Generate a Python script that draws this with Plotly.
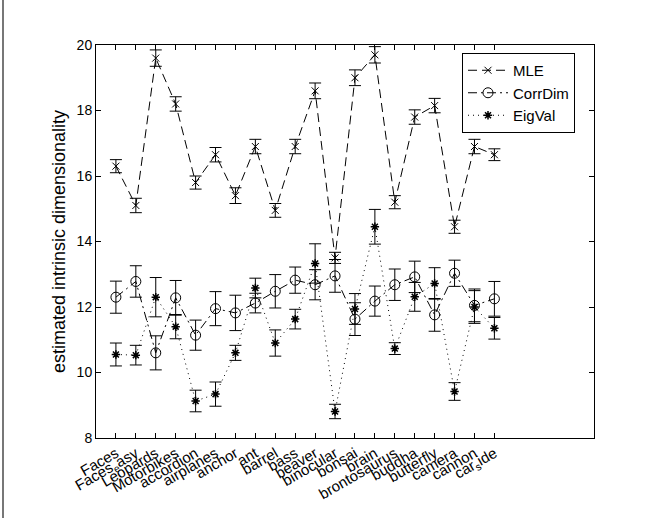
import plotly.graph_objects as go

categories = ["Faces", "Faces_easy", "Leopards", "Motorbikes", "accordion", "airplanes",
              "anchor", "ant", "barrel", "bass", "beaver", "binocular", "bonsai", "brain",
              "brontosaurus", "buddha", "butterfly", "camera", "cannon", "car_side"]
tick_labels = ["Faces", "Faces<sub>e</sub>asy", "Leopards", "Motorbikes", "accordion", "airplanes",
               "anchor", "ant", "barrel", "bass", "beaver", "binocular", "bonsai", "brain",
               "brontosaurus", "buddha", "butterfly", "camera", "cannon", "car<sub>s</sub>ide"]
x_pos = list(range(1, len(categories) + 1))

mle = [16.3, 15.1, 19.6, 18.2, 15.8, 16.65, 15.4, 16.9, 14.95, 16.9,
       18.6, 13.5, 19.0, 19.7, 15.2, 17.8, 18.15, 14.45, 16.9, 16.65]
mle_err = [0.2, 0.22, 0.25, 0.22, 0.2, 0.22, 0.24, 0.22, 0.21, 0.22,
           0.24, 0.17, 0.24, 0.25, 0.2, 0.22, 0.22, 0.2, 0.22, 0.18]

corrdim = [12.3, 12.78, 10.6, 12.28, 11.14, 11.95, 11.82, 12.12, 12.48, 12.82,
           12.68, 12.95, 11.63, 12.18, 12.68, 12.92, 11.76, 13.03, 12.05, 12.25]
corrdim_err = [0.49, 0.48, 0.52, 0.53, 0.46, 0.52, 0.54, 0.3, 0.51, 0.4,
               0.46, 0.5, 0.5, 0.46, 0.48, 0.48, 0.5, 0.4, 0.5, 0.53]

eigval = [10.55, 10.53, 12.3, 11.4, 9.13, 9.34, 10.6, 12.58, 10.9, 11.63,
          13.33, 8.81, 11.94, 14.45, 10.73, 12.31, 12.72, 9.42, 12.0, 11.35]
eigval_err = [0.35, 0.3, 0.6, 0.37, 0.33, 0.37, 0.23, 0.3, 0.4, 0.3,
              0.6, 0.22, 0.47, 0.53, 0.18, 0.44, 0.48, 0.27, 0.5, 0.33]

FONT = "Liberation Sans"
W, H = 657, 518
L, R, T, B = 96, 63, 45, 80

def err(arr):
    return dict(type="data", array=arr, color="black", thickness=1, width=6, visible=True)

fig = go.Figure()
fig.add_trace(go.Scatter(
    x=x_pos, y=mle, name="MLE", mode="lines+markers",
    line=dict(color="black", width=1, dash="9px,5px"),
    marker=dict(symbol="x-thin-open", size=7, color="black", line=dict(color="black", width=1)),
    error_y=err(mle_err)))
fig.add_trace(go.Scatter(
    x=x_pos, y=corrdim, name="CorrDim", mode="lines+markers",
    line=dict(color="black", width=1, dash="9px,4px,2px,4px"),
    marker=dict(symbol="circle-open", size=10, color="black", line=dict(color="black", width=1)),
    error_y=err(corrdim_err)))
fig.add_trace(go.Scatter(
    x=x_pos, y=eigval, name="EigVal", mode="lines+markers",
    line=dict(color="black", width=1, dash="1px,4px"),
    marker=dict(symbol="asterisk-open", size=7, color="black", line=dict(color="black", width=1.5)),
    error_y=err(eigval_err)))

ph = H - T - B
pw = W - L - R
fig.add_shape(type="line", xref="paper", yref="paper",
              x0=(3 - L) / pw, x1=(3 - L) / pw, y0=-B / ph, y1=(H - B) / ph,
              line=dict(color="#777777", width=2))

fig.update_layout(
    width=W, height=H,
    margin=dict(l=L, r=R, t=T, b=B, pad=0),
    paper_bgcolor="white", plot_bgcolor="white",
    font=dict(family=FONT, size=14, color="black"),
    showlegend=True,
    legend=dict(x=(462 - L) / pw, y=(H - B - 53) / ph, xanchor="left", yanchor="top",
                bgcolor="white", bordercolor="black", borderwidth=1,
                font=dict(family=FONT, size=15, color="black"),
                tracegroupgap=0, itemwidth=40),
    xaxis=dict(range=[0, 25], tickmode="array", tickvals=x_pos, ticktext=tick_labels,
               tickangle=-30, ticks="inside", ticklen=5, tickcolor="black",
               showline=True, linecolor="black", linewidth=1, mirror="ticks",
               showgrid=False, zeroline=False,
               tickfont=dict(family=FONT, size=15, color="black")),
    yaxis=dict(range=[8, 20], tickmode="array", tickvals=[8, 10, 12, 14, 16, 18, 20],
               ticks="inside", ticklen=5, tickcolor="black",
               showline=True, linecolor="black", linewidth=1, mirror="ticks",
               showgrid=False, zeroline=False,
               tickfont=dict(family=FONT, size=14, color="black"),
               title=dict(text="estimated intrinsic dimensionality",
                          font=dict(family=FONT, size=18, color="black"), standoff=6)),
)

fig.write_html("out.html")
